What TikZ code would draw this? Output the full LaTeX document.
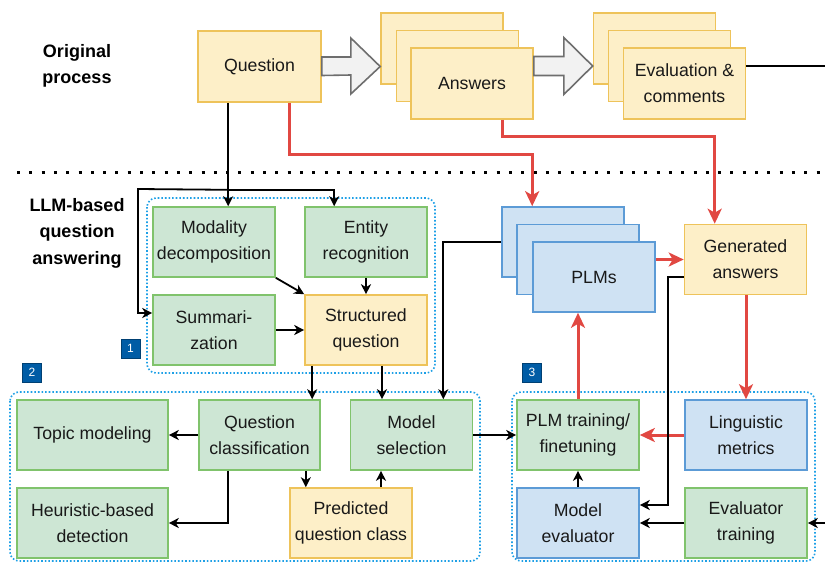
\documentclass[tikz,border=0pt]{standalone}
\usepackage{fontspec}
\setmainfont{Liberation Sans}
\usetikzlibrary{arrows.meta,calc}
\definecolor{gfill}{RGB}{205,230,212}
\definecolor{gdraw}{RGB}{128,195,108}
\definecolor{yfill}{RGB}{253,239,200}
\definecolor{ydraw}{RGB}{238,195,90}
\definecolor{bfill}{RGB}{207,226,243}
\definecolor{bdraw}{RGB}{92,155,214}
\definecolor{redc}{RGB}{225,72,66}
\definecolor{txt}{RGB}{25,25,25}
\definecolor{cont}{RGB}{30,160,230}
\definecolor{badge}{RGB}{0,92,165}
\definecolor{harrf}{RGB}{242,242,242}
\definecolor{harrd}{RGB}{110,110,110}
\tikzset{
  box/.style={draw, line width=1.6pt, minimum width=122pt, minimum height=70pt,
    align=center, inner sep=0pt, text=txt, font=\fontsize{17.7}{26}\selectfont},
  gbox/.style={box, fill=gfill, draw=gdraw},
  ybox/.style={box, fill=yfill, draw=ydraw},
  bbox/.style={box, fill=bfill, draw=bdraw},
  arr/.style={draw=black, line width=1.8pt, -{Stealth[length=10pt,width=10pt,inset=3pt]}},
  plain/.style={draw=black, line width=1.8pt},
  rarr/.style={draw=redc, line width=3pt, -{Stealth[length=15pt,width=14pt,inset=4pt]}},
  container/.style={draw=cont, line width=1.6pt, dotted, rounded corners=9pt},
  badgebox/.style={fill=badge, draw=badge!70!black, line width=0.8pt, minimum width=19pt, minimum height=19pt,
    inner sep=0pt, text=white, font=\fontsize{12}{12}\selectfont},
  label/.style={align=center, text=black, font=\fontsize{18}{26.5}\selectfont\bfseries},
  hollow/.style={draw=harrd, fill=harrf, line width=1.6pt, line join=miter}
}
\begin{document}
\begin{tikzpicture}[x=1pt,y=-1pt]
\useasboundingbox (0,0) rectangle (825,563);

% labels
\node[label] (lorig) at (77,66) {Original\\process};
\node[label] (lllm) at (77,233) {LLM-based\\question\\answering};

% separator
\draw[line width=3pt, dash pattern=on 3pt off 9.3pt] (17,172) -- (825,172);

% containers
\draw[container] (147,198) rectangle (435,373);
\draw[container] (10,392) rectangle (480,561);
\draw[container] (512,392) rectangle (815,561);
\node[badgebox] (b1) at (130.5,348.5) {1};
\node[badgebox] (b2) at (32,372.5) {2};
\node[badgebox] (b3) at (532,372.5) {3};

% original process
\node[ybox, minimum width=123pt, minimum height=71pt] (q) at (259.5,66.5) {Question};
\node[ybox, minimum height=71pt] (ansb) at (442,48.5) {};
\node[ybox, minimum height=71pt] (ansm) at (457.5,66) {};
\node[ybox, minimum height=71pt] (ansf) at (472,83.5) {Answers};
\node[ybox, minimum height=71pt] (evb) at (654.5,48.5) {};
\node[ybox, minimum height=71pt] (evm) at (669.5,66) {};
\node[ybox, minimum height=71pt] (evf) at (684.5,83.5) {Evaluation \&\\comments};

% hollow arrows
\draw[hollow] ($(q.east)+(0,-9.5)$) -- ++(29,0) -- ++(0,-19) -- (ansb.west |- q.east) -- ($(q.east)+(29,27.5)$) -- ++(0,-19) -- ($(q.east)+(0,9)$) -- cycle;
\draw[hollow] ($(ansf.east)+(0,-27)$) -- ++(30,0) -- ++(0,-19) -- ($(evb.west)+(0,17.5)$) -- ($(ansf.east)+(30,11)$) -- ++(0,-19) -- ($(ansf.east)+(0,-8)$) -- cycle;

\coordinate (rout) at (825,66);
\draw[plain] ($(evf.east)+(0,-17.5)$) -- (rout);

% LLM part 1
\node[gbox] (mod) at (214,242) {Modality\\decomposition};
\node[gbox] (ent) at (366,242) {Entity\\recognition};
\node[gbox] (sum) at (214,330) {Summari-\\zation};
\node[ybox] (str) at (366,330) {Structured\\question};

% PLMs
\node[bbox] (plmb) at (563,242) {};
\node[bbox] (plmm) at (578,259.5) {};
\node[bbox] (plmf) at (594,277) {PLMs};
\node[ybox] (gen) at (745.5,259.5) {Generated\\answers};

% part 2
\node[gbox, minimum width=151pt] (top) at (92.5,435) {Topic modeling};
\node[gbox, minimum width=121pt] (qc) at (259.5,435) {Question\\classification};
\node[gbox] (ms) at (411.5,435) {Model\\selection};
\node[gbox, minimum width=151pt] (heu) at (92.5,523) {Heuristic-based\\detection};
\node[ybox] (pred) at (351,523) {Predicted\\question class};

% part 3
\node[gbox] (plmt) at (578,435) {PLM training/\\finetuning};
\node[bbox] (ling) at (746,435) {Linguistic\\metrics};
\node[bbox] (mev) at (578,523) {Model\\evaluator};
\node[gbox] (etr) at (746,523) {Evaluator\\training};

% connectors: question to part 1
\draw[arr] ($(q.south west)+(31,0)$) -- ($(mod.north west)+(76,0)$);
\coordinate (br) at ($(q.south west)+(31,87)$);
\draw[arr] (br) -| ($(ent.north west)+(30,0)$);
\draw[arr] (br) -- (138,189) |- ($(sum.west)+(0,-17)$);
\draw[arr] (mod.south east) -- (str.north west);
\draw[arr] (ent.south) -- (str.north);
\draw[arr] (sum.east) -- (str.west);

% structured to part 2
\draw[arr] ($(str.south west)+(8,0)$) coordinate (s1) -- (s1 |- qc.north);
\draw[arr] ($(str.south)+(16,0)$) coordinate (s2) -- (s2 |- ms.north);
\draw[arr] (plmb.west) -| ($(ms.north east)+(-30,0)$);

% red connectors
\draw[rarr] ($(q.south east)+(-32,0)$) -- ++(0,52) -| ($(plmb.north west)+(31,0)$);
\draw[rarr] ($(ansf.south west)+(92,0)$) -- ++(0,17) -| ($(gen.north west)+(31,0)$);
\draw[rarr] (gen.west -| plmf.east) -- (gen.west);
\draw[rarr] (gen.south -| ling.north) -- (ling.north);
\draw[rarr] (ling.west) -- (plmt.east);
\draw[rarr] (plmt.north) -- (plmt.north |- plmf.south);

% generated to model evaluator
\draw[arr] ($(gen.west)+(0,17.5)$) -- ++(-16,0) |- ($(mev.east)+(0,-18)$);

% part 2 connectors
\draw[arr] (qc.west) -- (top.east);
\draw[arr] ($(qc.south west)+(30,0)$) |- (heu.east);
\draw[arr] ($(qc.south east)+(-15,0)$) coordinate (c1) -- (c1 |- pred.north);
\draw[arr] ($(pred.north)+(30,0)$) coordinate (c2) -- (c2 |- ms.south);
\draw[arr] (ms.east) -- (plmt.west);

% part 3 connectors
\draw[arr] (mev.north) -- (plmt.south);
\draw[arr] (etr.west) -- (mev.east);
\coordinate (rin) at (825,523);
\draw[arr] (rin) -- (etr.east);
\end{tikzpicture}
\end{document}
